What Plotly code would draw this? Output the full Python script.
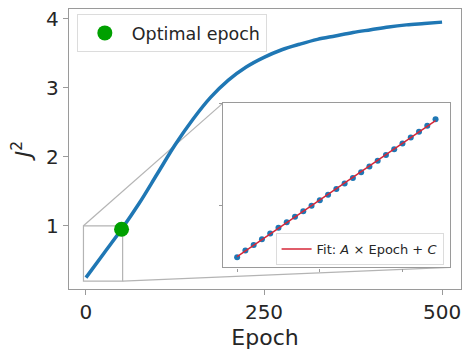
import numpy as np
import plotly.graph_objects as go

# ---- data ----
epochs = [0, 25, 50, 75, 100, 125, 150, 175, 200, 225, 250, 275, 300,
          325, 350, 375, 400, 425, 450, 475, 500]
j2 = [0.25, 0.60, 0.95, 1.33, 1.75, 2.17, 2.54, 2.86, 3.11, 3.30, 3.44, 3.55, 3.63,
      3.70, 3.75, 3.80, 3.84, 3.88, 3.91, 3.93, 3.95]

optimal_epoch = [50]
optimal_j2 = [0.95]

inset_epochs = [0, 2, 4, 6, 8, 10, 12, 14, 16, 18, 20, 22, 24, 26, 28, 30,
                32, 34, 36, 38, 40, 42, 44, 46, 48]
inset_j2 = [0.250, 0.282, 0.310, 0.338, 0.366, 0.393, 0.420, 0.447, 0.474, 0.501,
            0.528, 0.555, 0.582, 0.609, 0.636, 0.664, 0.692, 0.720, 0.748, 0.776,
            0.804, 0.833, 0.862, 0.891, 0.922]

x_ticks = [0, 250, 500]
y_ticks = [1, 2, 3, 4]
inset_x_ticks = [0, 20, 40]
inset_y_ticks = [0.5, 1.0]

# ---- layout params ----
FONT = "DejaVu Sans"
TXT = "#262626"
SPINE = "#9a9a9a"
BLUE = "#1f77b4"
GREEN = "#00a000"
RED = "#d62738"

main_xr = [-23.8, 526.6]
main_yr = [0.085, 4.14]
inset_xr = [-3.5, 51.5]
inset_yr = [0.2, 1.0]
inset_dom_x = [0.392, 0.972]
inset_dom_y = [0.077, 0.663]

A, C = np.polyfit(inset_epochs, inset_j2, 1)
fit_x = [inset_epochs[0], inset_epochs[-1]]
fit_y = [A * v + C for v in fit_x]

fig = go.Figure()
fig.add_trace(go.Scatter(x=epochs, y=j2, mode="lines",
                         line=dict(color=BLUE, width=3.5, shape="spline", smoothing=1.0),
                         showlegend=False, hoverinfo="skip"))
fig.add_trace(go.Scatter(x=optimal_epoch, y=optimal_j2, mode="markers",
                         marker=dict(color=GREEN, size=15),
                         name="Optimal epoch", legend="legend"))
fig.add_trace(go.Scatter(x=inset_epochs, y=inset_j2, mode="markers",
                         marker=dict(color=BLUE, size=6),
                         xaxis="x2", yaxis="y2", showlegend=False))
fig.add_trace(go.Scatter(x=fit_x, y=fit_y, mode="lines",
                         line=dict(color=RED, width=1.5),
                         xaxis="x2", yaxis="y2",
                         name="Fit: <i>A</i> × Epoch + <i>C</i>", legend="legend2"))


def to_main_x(frac):
    return main_xr[0] + frac * (main_xr[1] - main_xr[0])


def to_main_y(frac):
    return main_yr[0] + frac * (main_yr[1] - main_yr[0])


GRAYLINE = dict(color="#b4b4b4", width=1.2)
shapes = [
    dict(type="rect", xref="x", yref="y", x0=inset_xr[0], x1=inset_xr[1],
         y0=inset_yr[0], y1=inset_yr[1], line=GRAYLINE, layer="below"),
    dict(type="line", xref="x", yref="y", x0=inset_xr[0], y0=inset_yr[1],
         x1=to_main_x(inset_dom_x[0]), y1=to_main_y(inset_dom_y[1]),
         line=GRAYLINE, layer="below"),
    dict(type="line", xref="x", yref="y", x0=inset_xr[1], y0=inset_yr[0],
         x1=to_main_x(inset_dom_x[1]), y1=to_main_y(inset_dom_y[0]),
         line=GRAYLINE, layer="below"),
]

axis_common = dict(showline=True, mirror=True, linecolor=SPINE, linewidth=1.3,
                   showgrid=False, zeroline=False, ticks="outside",
                   tickcolor=SPINE, tickwidth=1.2)

fig.update_layout(
    width=469, height=353, autosize=False,
    margin=dict(l=69, r=7, t=7, b=61, pad=0),
    paper_bgcolor="white", plot_bgcolor="white",
    font=dict(family=FONT, color=TXT),
    shapes=shapes,
    xaxis=dict(range=main_xr, tickvals=x_ticks, ticklen=5,
               tickfont=dict(size=20, color=TXT),
               title=dict(text="Epoch", font=dict(size=22, color=TXT), standoff=6),
               **axis_common),
    yaxis=dict(range=main_yr, tickvals=y_ticks, ticklen=5,
               tickfont=dict(size=20, color=TXT),
               title=dict(text="<i>J</i><sup>2</sup>", font=dict(size=22, color=TXT), standoff=8),
               **axis_common),
    xaxis2=dict(domain=inset_dom_x, anchor="y2", range=inset_xr, tickvals=inset_x_ticks,
                ticklen=3, showticklabels=False, **axis_common),
    yaxis2=dict(domain=inset_dom_y, anchor="x2", range=inset_yr, tickvals=inset_y_ticks,
                ticklen=3, showticklabels=False, **axis_common),
    legend=dict(x=0.020, y=0.982, xanchor="left", yanchor="top",
                bgcolor="white", bordercolor="#dcdcdc", borderwidth=1,
                font=dict(size=17.5, color=TXT, family=FONT), itemwidth=44),
    legend2=dict(x=0.527, y=0.200, xanchor="left", yanchor="top",
                 bgcolor="white", bordercolor="#dcdcdc", borderwidth=1,
                 font=dict(size=13, color=TXT, family=FONT)),
)

fig.write_html("out.html", config={"displayModeBar": False},
               post_script="document.body.style.margin='0px';")
